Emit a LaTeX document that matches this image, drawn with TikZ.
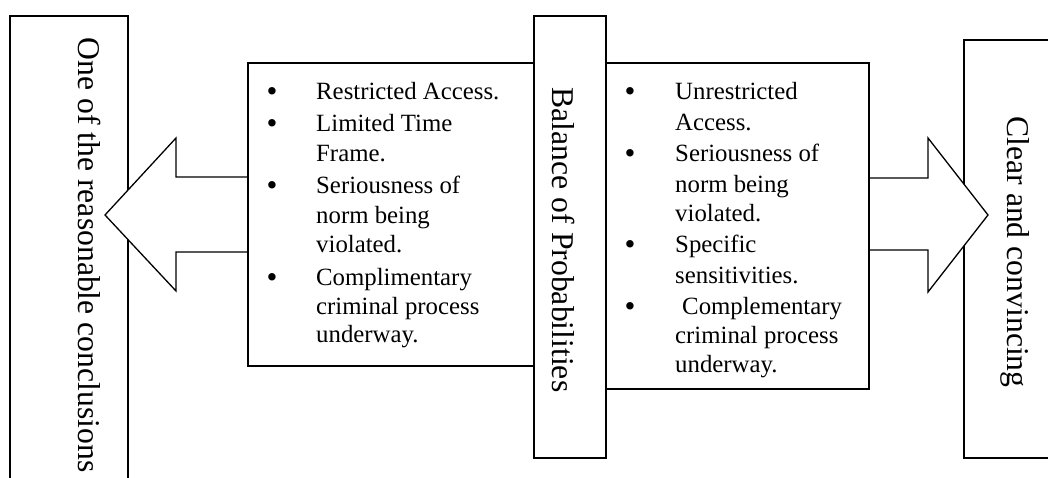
\documentclass[tikz,border=0pt]{standalone}
\usepackage{fontspec}
\setmainfont{Liberation Serif}
\begin{document}
\begin{tikzpicture}[x=1pt,y=-1pt,
  box/.style={draw, line width=1.3pt, fill=white, inner sep=0pt, rectangle},
  blockarrow/.style={draw, line width=1.3pt, fill=white, line join=miter},
  biglabel/.style={inner sep=0pt, anchor=base, rotate=-90, font=\fontsize{31.7}{38}\selectfont},
  itemline/.style={inner sep=0pt, anchor=base west, font=\fontsize{24.8}{29}\selectfont},
  bul/.style={inner sep=0pt, anchor=base, font=\fontsize{31}{31}\selectfont}]
\useasboundingbox (0,0) rectangle (1048,478);
\clip (0,0) rectangle (1048,478);
% outer boxes
\node[box, minimum width=118pt, minimum height=478pt] (leftbox) at (69,255) {};
\node[box, minimum width=106pt, minimum height=418pt] (rightbox) at (1017,249) {};
% block arrows
\path[blockarrow] (248,177) -- (176,177) -- (176,138) -- (105,215) -- (176,291) -- (176,252) -- (248,252);
\path[blockarrow] (869,178) -- (928,178) -- (928,138) -- (988,215) -- (928,292) -- (928,250) -- (869,250);
% inner boxes
\node[box, minimum width=287pt, minimum height=303pt] (lbox) at (391.5,214.5) {};
\node[box, minimum width=263pt, minimum height=326pt] (rbox) at (737.5,226) {};
\node[box, minimum width=72pt, minimum height=442pt] (cbox) at (570,237) {};
% rotated labels
\node[biglabel] (ltext) at (78,255) {One of the reasonable conclusions};
\node[biglabel] (ctext) at (552,240) {Balance of Probabilities};
\node[biglabel] (rtext) at (1007,252) {Clear and convincing};
% left list
\node[bul] (lb1) at (272,102) {•};
\node[bul] (lb2) at (272,134) {•};
\node[bul] (lb3) at (272,196) {•};
\node[bul] (lb4) at (272,287) {•};
\node[itemline] (l1) at (316,100) {Restricted Access.};
\node[itemline] (l2) at (316,132) {Limited Time};
\node[itemline] (l3) at (316,162) {Frame.};
\node[itemline] (l4) at (316,194) {Seriousness of};
\node[itemline] (l5) at (316,223) {norm being};
\node[itemline] (l6) at (316,252) {violated.};
\node[itemline] (l7) at (316,285) {Complimentary};
\node[itemline] (l8) at (316,314) {criminal process};
\node[itemline] (l9) at (316,342) {underway.};
% right list
\node[bul] (rb1) at (630,102) {•};
\node[bul] (rb2) at (630,164) {•};
\node[bul] (rb3) at (630,254) {•};
\node[bul] (rb4) at (630,316) {•};
\node[itemline] (r1) at (675,100) {Unrestricted};
\node[itemline] (r2) at (675,131) {Access.};
\node[itemline] (r3) at (675,162) {Seriousness of};
\node[itemline] (r4) at (675,193) {norm being};
\node[itemline] (r5) at (675,222) {violated.};
\node[itemline] (r6) at (675,252) {Specific};
\node[itemline] (r7) at (675,283) {sensitivities.};
\node[itemline] (r8) at (682,314) {Complementary};
\node[itemline] (r9) at (675,343) {criminal process};
\node[itemline] (r10) at (675,372) {underway.};
\end{tikzpicture}
\end{document}
